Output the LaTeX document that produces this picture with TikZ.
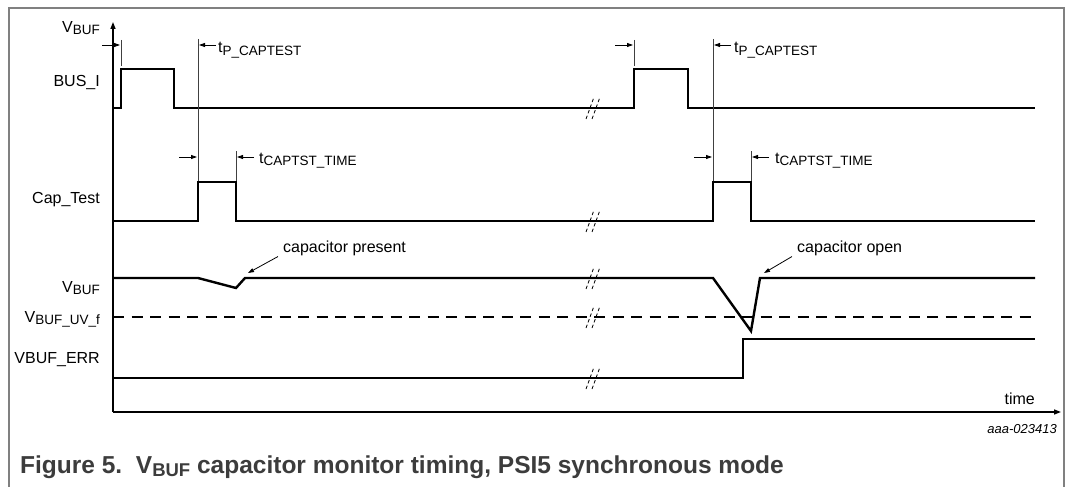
\documentclass[tikz,border=0pt]{standalone}
\usepackage{fontspec}
\setmainfont{Liberation Sans}
\usetikzlibrary{arrows.meta}
\newcommand\lowsub[1]{\raisebox{-2pt}{\fontsize{13.5}{14}\selectfont #1}}
\newcommand\capsub[1]{\raisebox{-3pt}{\fontsize{18.5}{18}\selectfont #1}}
\definecolor{framegray}{RGB}{128,128,128}
\definecolor{capgray}{RGB}{60,60,60}
\begin{document}
\begin{tikzpicture}[x=1pt,y=-1pt,
  sig/.style={line width=2.4pt, black, line join=miter, line cap=butt},
  axisline/.style={line width=1.5pt, black, -{Triangle[length=7pt,width=5pt]}},
  guide/.style={line width=0.8pt, black!75},
  dimarrow/.style={line width=0.8pt, black, -{Triangle[length=6pt,width=4pt]}},
  lbl/.style={font=\fontsize{16}{18}\selectfont, inner sep=0pt},
  brk/.style={line width=0.8pt, black, dash pattern=on 3.5pt off 2.5pt},
  uv/.style={line width=2.4pt, black, dash pattern=on 11pt off 7.5pt},
]
\useasboundingbox (0,0) rectangle (1071,487);
\fill[white] (0,0) rectangle (1071,487);
% frame
\draw[framegray, line width=1.3pt] (9,487) -- (9,8) -- (1064,8) -- (1064,487);

% axes
\coordinate (org) at (113,412);
\coordinate (ytop) at (113,22);
\coordinate (xend) at (1061,412);
\draw[axisline] (org) -- (ytop);
\draw[axisline] (org) -- (xend);
\node[lbl, anchor=base east] (vbufax) at (100,33) {V\lowsub{BUF}};
\node[lbl, anchor=base east] (timelbl) at (1035,404) {time};
\node[inner sep=0pt, anchor=base east, font=\fontsize{13}{14}\selectfont\itshape] (code) at (1057,433) {aaa-023413};

% signal labels
\node[lbl, anchor=base east] (lbus) at (100,87) {BUS\_I};
\node[lbl, anchor=base east] (lcap) at (100,203) {Cap\_Test};
\node[lbl, anchor=base east] (lvbuf) at (100,292) {V\lowsub{BUF}};
\node[lbl, anchor=base east] (luv) at (100,322) {V\lowsub{BUF\_UV\_f}};
\node[lbl, anchor=base east] (lerr) at (100,363) {VBUF\_ERR};

% BUS_I
\draw[sig] (113,108) -- (121,108) -- (121,69) -- (174,69) -- (174,108) -- (634,108)
  -- (634,69) -- (688,69) -- (688,108) -- (1035,108);
% Cap_Test
\draw[sig] (113,221) -- (198,221) -- (198,182) -- (236,182) -- (236,221) -- (713,221)
  -- (713,182) -- (751,182) -- (751,221) -- (1035,221);
% V_BUF
\draw[sig] (113,278) -- (198,278) -- (236,288) -- (245,278) -- (713,278)
  -- (751,331) -- (760,278) -- (1035,278);
% V_BUF_UV_f threshold
\draw[uv] (113,317) -- (1035,317);
% VBUF_ERR
\draw[sig] (113,378) -- (743,378) -- (743,339) -- (1035,339);

% break marks
\foreach \yy in {108,221,278,317,378} {
  \draw[brk] (586,\yy+11) -- (594,\yy-11);
  \draw[brk] (592,\yy+11) -- (600,\yy-11);
}

% timing markers (first group)
\draw[guide] (121,40) -- (121,66);
\draw[dimarrow] (102,45) -- (120,45);
\draw[guide] (198,39) -- (198,181);
\draw[dimarrow] (216,45) -- (199,45);
\node[lbl, anchor=base west] (tp1) at (218,53) {t\lowsub{P\_CAPTEST}};
\draw[dimarrow] (179,157) -- (197,157);
\draw[guide] (236,151) -- (236,181);
\draw[dimarrow] (254,157) -- (237,157);
\node[lbl, anchor=base west] (tc1) at (259,163) {t\lowsub{CAPTST\_TIME}};

% timing markers (second group)
\draw[guide] (634,40) -- (634,66);
\draw[dimarrow] (615,45) -- (633,45);
\draw[guide] (713,39) -- (713,181);
\draw[dimarrow] (731,45) -- (714,45);
\node[lbl, anchor=base west] (tp2) at (734,53) {t\lowsub{P\_CAPTEST}};
\draw[dimarrow] (694,157) -- (712,157);
\draw[guide] (751,151) -- (751,181);
\draw[dimarrow] (769,157) -- (752,157);
\node[lbl, anchor=base west] (tc2) at (775,163) {t\lowsub{CAPTST\_TIME}};

% annotations
\node[lbl, anchor=base west] (cpres) at (283,252) {capacitor present};
\coordinate (cpresTip) at (248,273);
\draw[dimarrow] (cpres.south west) ++(-5,1) -- (cpresTip);
\node[lbl, anchor=base west] (copen) at (797,252) {capacitor open};
\coordinate (copenTip) at (764,273);
\draw[dimarrow] (copen.south west) ++(-5,1) -- (copenTip);

% caption
\node[inner sep=0pt, anchor=base west, text=capgray, font=\fontsize{24.5}{26}\selectfont\bfseries] (caption) at (20,473)
  {Figure 5.\ \ V\capsub{BUF} capacitor monitor timing, PSI5 synchronous mode};
\end{tikzpicture}
\end{document}
